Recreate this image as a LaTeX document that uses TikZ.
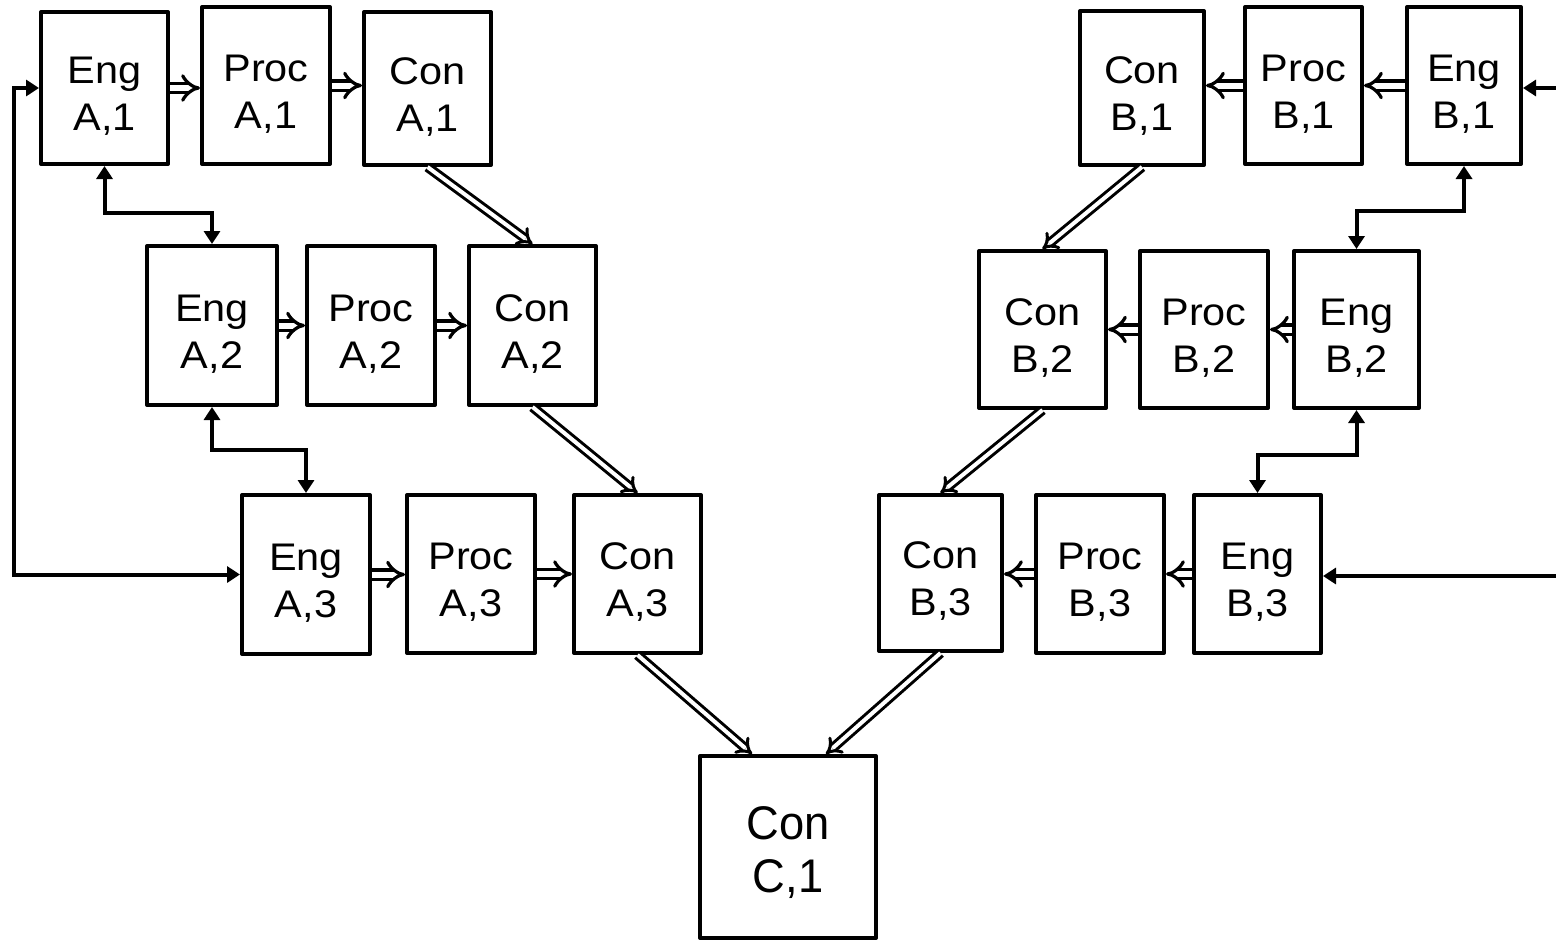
\documentclass[tikz,border=0pt]{standalone}
\usepackage{fontspec}
\setmainfont{Liberation Sans}
\usepackage{graphicx}
\usetikzlibrary{arrows.meta,calc}
\newcommand\bt[2]{\raisebox{-5pt}[\height][\depth]{\scalebox{1.12}[1.04]{\begin{tabular}{@{}c@{}}#1\\#2\end{tabular}}}}
\begin{document}
\begin{tikzpicture}[x=0.5pt,y=-0.5pt,
 box/.style={draw, line width=2pt, line join=round, rectangle, inner sep=0pt, font=\fontsize{18.5pt}{22.6pt}\selectfont},
 sz/.style 2 args={minimum width=#1*0.5pt, minimum height=#2*0.5pt},
 flow/.style={draw, line width=1.6pt, double, double distance=3pt, -{Implies}},
 dflow/.style={draw, line width=1.5pt, double, double distance=2pt, -{Implies}},
 link/.style={draw, line width=2pt, {Triangle[length=6.5pt,width=8pt]}-{Triangle[length=6.5pt,width=8pt]}},
 feed/.style={draw, line width=2pt, -{Triangle[length=6.5pt,width=8pt]}}]
\useasboundingbox (0,0) rectangle (1556,942);
% A side
\node[box, sz={127}{152}] (EA1) at (104.5,88) {\bt{Eng}{A,1}};
\node[box, sz={128}{157}] (PA1) at (266,85.5) {\bt{Proc}{A,1}};
\node[box, sz={127}{153}] (CA1) at (427.5,88.5) {\bt{Con}{A,1}};
\node[box, sz={130}{159}] (EA2) at (212,325.5) {\bt{Eng}{A,2}};
\node[box, sz={128}{159}] (PA2) at (371,325.5) {\bt{Proc}{A,2}};
\node[box, sz={127}{159}] (CA2) at (532.5,325.5) {\bt{Con}{A,2}};
\node[box, sz={128}{159}] (EA3) at (306,574.5) {\bt{Eng}{A,3}};
\node[box, sz={128}{158}] (PA3) at (471,574) {\bt{Proc}{A,3}};
\node[box, sz={127}{158}] (CA3) at (637.5,574) {\bt{Con}{A,3}};
% B side
\node[box, sz={124}{154}] (CB1) at (1142,88) {\bt{Con}{B,1}};
\node[box, sz={117}{157}] (PB1) at (1303.5,85.5) {\bt{Proc}{B,1}};
\node[box, sz={114}{157}] (EB1) at (1464,85.5) {\bt{Eng}{B,1}};
\node[box, sz={127}{157}] (CB2) at (1042.5,329.5) {\bt{Con}{B,2}};
\node[box, sz={128}{157}] (PB2) at (1204,329.5) {\bt{Proc}{B,2}};
\node[box, sz={125}{157}] (EB2) at (1356.5,329.5) {\bt{Eng}{B,2}};
\node[box, sz={123}{156}] (CB3) at (940.5,573) {\bt{Con}{B,3}};
\node[box, sz={128}{158}] (PB3) at (1100,574) {\bt{Proc}{B,3}};
\node[box, sz={127}{158}] (EB3) at (1257.5,574) {\bt{Eng}{B,3}};
% C
\node[box, sz={176}{182}, font=\fontsize{23.6pt}{26.5pt}\selectfont] (CC1) at (788,847) {\raisebox{-4pt}[\height][\depth]{\scalebox{0.96}[1]{\begin{tabular}{@{}c@{}}Con\\C,1\end{tabular}}}};
% horizontal flows
\draw[flow] (EA1.east) -- (EA1.east -| PA1.west);
\draw[flow] (PA1.east) -- (PA1.east -| CA1.west);
\draw[flow] (EA2.east) -- (EA2.east -| PA2.west);
\draw[flow] (PA2.east) -- (PA2.east -| CA2.west);
\draw[flow] (EA3.east) -- (EA3.east -| PA3.west);
\draw[flow] (PA3.east) -- (PA3.east -| CA3.west);
\draw[flow] (EB1.west) -- (EB1.west -| PB1.east);
\draw[flow] (PB1.west) -- (PB1.west -| CB1.east);
\draw[flow] (EB2.west) -- (EB2.west -| PB2.east);
\draw[flow] (PB2.west) -- (PB2.west -| CB2.east);
\draw[flow] (EB3.west) -- (EB3.west -| PB3.east);
\draw[flow] (PB3.west) -- (PB3.west -| CB3.east);
% diagonal flows
\draw[dflow] (CA1.south) -- (CA2.north);
\draw[dflow] (CA2.south) -- (CA3.north);
\draw[dflow] (CA3.south) -- ($(CC1.north)+(-36,0)$);
\draw[dflow] (CB1.south) -- (CB2.north);
\draw[dflow] (CB2.south) -- (CB3.north);
\draw[dflow] (CB3.south) -- ($(CC1.north)+(38,0)$);
% elbow links
\coordinate (j1) at (0,213);
\coordinate (j2) at (0,450);
\coordinate (j3) at (0,211);
\coordinate (j4) at (0,455);
\draw[link] (EA1.south) -- (EA1.south |- j1) -| (EA2.north);
\draw[link] (EA2.south) -- (EA2.south |- j2) -| (EA3.north);
\draw[link] (EB1.south) -- (EB1.south |- j3) -| (EB2.north);
\draw[link] (EB2.south) -- (EB2.south |- j4) -| (EB3.north);
% outer loop and feeds
\coordinate (lx) at (14,0);
\draw[link] (EA1.west) -- (EA1.west -| lx) |- (EA3.west);
\coordinate (R1) at (1556,88);
\coordinate (R3) at (1556,576);
\draw[feed] (R1) -- (R1 -| EB1.east);
\draw[feed] (R3) -- (R3 -| EB3.east);
\end{tikzpicture}
\end{document}
